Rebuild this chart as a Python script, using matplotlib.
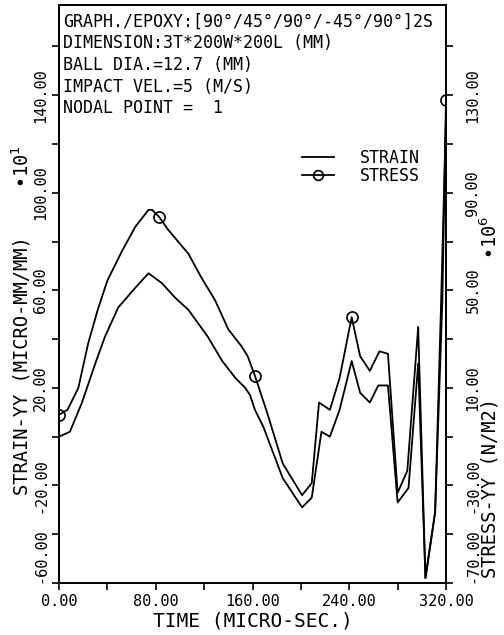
import matplotlib
matplotlib.use("Agg")
import matplotlib.pyplot as plt
from matplotlib.lines import Line2D
from matplotlib.ticker import FormatStrFormatter

# strain (left axis, x10^1 micro-mm/mm)
strain_t = [0, 9, 19, 30, 38, 49, 63, 74, 85, 96, 107, 123, 135, 146, 154, 158, 162, 169,
            185, 201, 209, 217, 224, 232, 242, 249, 257, 264, 272, 280, 289, 297, 303,
            311, 316, 320]
strain = [0, 2, 14, 30, 41, 53, 61, 67, 63, 57, 52, 41, 31, 24, 20, 17, 11, 4,
          -17, -29, -25, 2, 0, 11, 31, 18, 14, 21, 21, -27, -21, 30, -58,
          -31, 56, 132]

# stress (right axis, x10^6 N/m2)
stress_t = [0, 7, 16, 24, 32, 40, 52, 63, 74, 77, 83, 90, 107, 118, 129, 140, 151, 156,
            162, 172, 185, 201, 209, 215, 224, 232, 242, 249, 257, 265, 272, 280, 288,
            297, 303, 311, 317, 320]
stress = [-1, 1, 10, 28, 42, 54, 66, 76, 83, 83, 80, 75, 65, 55, 46, 34, 27, 23,
          15, 0, -21, -34, -29, 4, 1, 14, 39, 23, 17, 25, 24, -33, -24,
          35, -68, -41, 46, 128]
marker_t = [0, 83, 162, 242, 320]

x_major = [0, 80, 160, 240, 320]
x_minor = [40, 120, 200, 280]
left_major = [-60, -20, 20, 60, 100, 140]
left_minor = [-40, 0, 40, 80, 120, 160]
right_major = [-70, -30, 10, 50, 90, 130]
right_minor = [-50, -10, 30, 70, 110, 150]

header = ["GRAPH./EPOXY:[90°/45°/90°/-45°/90°]2S",
          "DIMENSION:3T*200W*200L (MM)",
          "BALL DIA.=12.7 (MM)",
          "IMPACT VEL.=5 (M/S)",
          "NODAL POINT =  1"]

plt.rcParams['font.family'] = ['DejaVu Sans Mono']

W, H = 504, 635
fig = plt.figure(figsize=(W / 100, H / 100), dpi=100)
ax = fig.add_axes([59 / W, 1 - 583 / H, (446 - 59) / W, (583 - 5) / H])
ax2 = ax.twinx()

ax.plot(strain_t, strain, color='black', lw=1.3)
marks = [stress_t.index(t) for t in marker_t]
ax2.plot(stress_t, stress, color='black', lw=1.3, marker='o', ms=8,
         mfc='none', mec='black', mew=1.2, markevery=marks)

ax.set_xlim(0, 320)
ax.set_ylim(-60, 177)
ax2.set_ylim(-70, 167)

ax.set_xticks(x_major)
ax.set_xticks(x_minor, minor=True)
ax.xaxis.set_major_formatter(FormatStrFormatter('%.2f'))
ax.set_yticks(left_major)
ax.set_yticks(left_minor, minor=True)
ax.yaxis.set_major_formatter(FormatStrFormatter('%.2f'))
ax2.set_yticks(right_major)
ax2.set_yticks(right_minor, minor=True)
ax2.yaxis.set_major_formatter(FormatStrFormatter('%.2f'))

for a in (ax, ax2):
    a.tick_params(which='both', direction='out', length=5, width=1.2, labelsize=11)
    for s in a.spines.values():
        s.set_linewidth(1.3)
ax.tick_params(axis='x', pad=3)
ax.tick_params(axis='y', labelrotation=90, pad=3)
ax2.tick_params(axis='y', labelrotation=90, pad=9)
for labels in (ax.get_yticklabels(), ax2.get_yticklabels()):
    for lab in labels:
        lab.set_va('center')
    # lowest label sits above the corner so it clears the x labels
    labels[0].set_va('bottom')

ax.set_xlabel('TIME (MICRO-SEC.)', fontsize=14, labelpad=2)

fig.text(22 / W, 1 - 366 / H, 'STRAIN-YY (MICRO-MM/MM)', rotation=90,
         ha='center', va='center', fontsize=13.5)
fig.text(22 / W, 1 - 167 / H, '•10$^1$', rotation=90,
         ha='center', va='center', fontsize=13.5)
fig.text(490 / W, 1 - 488 / H, 'STRESS-YY (N/M2)', rotation=90,
         ha='center', va='center', fontsize=13.5)
fig.text(490 / W, 1 - 237 / H, '•10$^6$', rotation=90,
         ha='center', va='center', fontsize=13.5)

for i, line in enumerate(header):
    fig.text(63 / W, 1 - (22 + 21.5 * i) / H, line, ha='left', va='center', fontsize=12)

handles = [Line2D([], [], color='black', lw=1.3),
           Line2D([], [], color='black', lw=1.3, marker='o', ms=7, mfc='none', mew=1.2)]
fig.legend(handles, ['STRAIN', 'STRESS'], loc='upper left',
           bbox_to_anchor=(302 / W, 1 - 149 / H), frameon=False, fontsize=12,
           handlelength=1.9, handletextpad=1.6, labelspacing=0.0,
           borderpad=0, borderaxespad=0)

fig.savefig('out.png', dpi=100)
